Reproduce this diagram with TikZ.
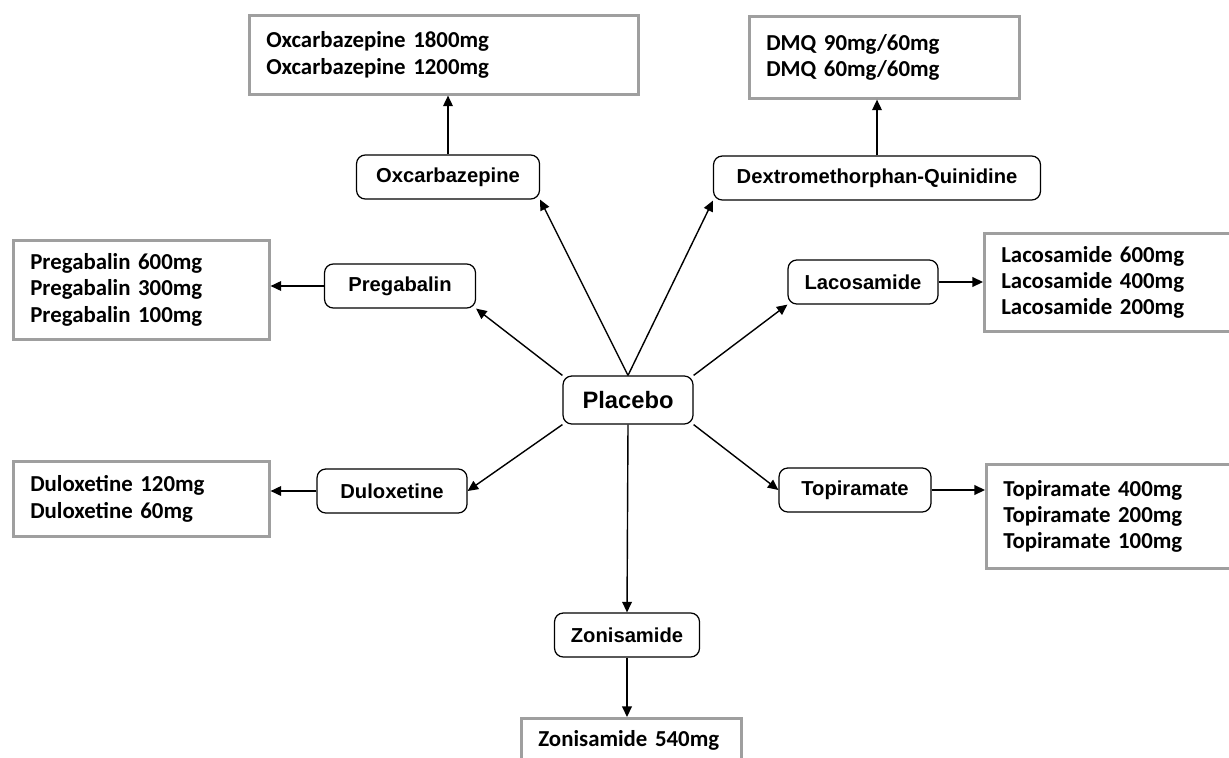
\documentclass[tikz,border=0pt]{standalone}
\usepackage{fontspec}
\usetikzlibrary{arrows.meta}
\newfontfamily\dosefont{Carlito}
\newfontfamily\drugfont{Liberation Sans}
\tikzset{
  drug/.style={draw, rounded corners=5pt, line width=0.7pt, fill=white,
    font=\drugfont\bfseries\fontsize{11.5}{13}\selectfont, minimum height=0.88cm, inner sep=2pt},
  dosebox/.style={draw=gray!75, line width=1.5pt, fill=white, anchor=north west, align=left,
    font=\dosefont\bfseries\fontsize{13}{15}\selectfont, inner xsep=0.34cm},
  link/.style={-{Triangle[length=6pt,width=5.5pt]}, line width=0.8pt}
}

\begin{document}
\begin{tikzpicture}[x=0.02cm, y=-0.02cm]
      \useasboundingbox (0,0) rectangle (1229,757);
      \clip (0,0) rectangle (1229,757);
      % Centre
      \node[drug, minimum width=2.6cm, minimum height=0.96cm, font=\drugfont\bfseries\fontsize{13.5}{15}\selectfont] (plac) at (628,400) {Placebo};
      % Drugs
      \node[drug, minimum width=3.66cm] (oxc) at (448,177) {Oxcarbazepine};
      \node[drug, minimum width=6.54cm] (dmq) at (877,178) {Dextromethorphan-Quinidine};
      \node[drug, minimum width=3.02cm] (preg) at (400,286) {Pregabalin};
      \node[drug, minimum width=3.0cm] (lac) at (863,282) {Lacosamide};
      \node[drug, minimum width=3.0cm] (dul) at (392,491) {Duloxetine};
      \node[drug, minimum width=3.04cm] (top) at (855,490) {Topiramate};
      \node[drug, minimum width=2.9cm] (zon) at (627,635) {Zonisamide};
      % Doses
      \node[dosebox, text width=7.1cm, minimum height=1.58cm] (oxcdose) at (248,14)
        {Oxcarbazepine 1800mg\\Oxcarbazepine 1200mg};
      \node[dosebox, text width=4.72cm, minimum height=1.64cm] (dmqdose) at (748,15)
        {DMQ 90mg/60mg\\DMQ 60mg/60mg};
      \node[dosebox, text width=4.44cm, minimum height=1.98cm] (pregdose) at (12,239)
        {Pregabalin 600mg\\Pregabalin 300mg\\Pregabalin 100mg};
      \node[dosebox, text width=4.8cm, minimum height=1.96cm] (lacdose) at (983,232)
        {Lacosamide 600mg\\Lacosamide 400mg\\Lacosamide 200mg};
      \node[dosebox, text width=4.44cm, minimum height=1.5cm] (duldose) at (12,460)
        {Duloxetine 120mg\\Duloxetine 60mg};
      \node[dosebox, text width=4.8cm, minimum height=2.08cm] (topdose) at (985,463)
        {Topiramate 400mg\\Topiramate 200mg\\Topiramate 100mg};
      \node[dosebox, text width=3.72cm, minimum height=0.9cm, inner ysep=2pt] (zondose) at (520,717)
        {Zonisamide 540mg};
      % Arrows from placebo
      \draw[link] (plac.north) -- (oxc.south east);
      \draw[link] (plac.north) -- (dmq.south west);
      \draw[link] (plac.north west) -- (preg.south east);
      \draw[link] (plac.north east) -- (lac.south west);
      \draw[link] (plac.south west) -- (dul.east);
      \draw[link] (plac.south east) -- (top.west);
      \draw[link] (plac.south) -- (zon.north);
      % Arrows to doses
      \draw[link] (oxc.north) -- (oxc.north |- oxcdose.south);
      \draw[link] (dmq.north) -- (dmq.north |- dmqdose.south);
      \draw[link] (preg.west) -- (preg.west -| pregdose.east);
      \draw[link] (lac.east) -- (lac.east -| lacdose.west);
      \draw[link] (dul.west) -- (dul.west -| duldose.east);
      \draw[link] (top.east) -- (top.east -| topdose.west);
      \draw[link] (zon.south) -- (zon.south |- zondose.north);
\end{tikzpicture}
\end{document}
